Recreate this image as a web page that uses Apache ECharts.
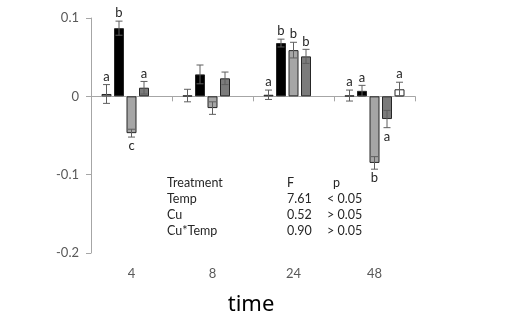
<!DOCTYPE html>
<html>
<head>
<meta charset="utf-8">
<script src="https://cdn.jsdelivr.net/npm/echarts@6/dist/echarts.min.js"></script>
<style>html,body{margin:0;padding:0;background:#fff;}#c{width:516px;height:317px;}</style>
</head>
<body>
<div id="c"></div>
<script>
// ---- data ----
var categories = ['4', '8', '24', '48'];
var s1Values = [0.003, 0.001, 0.002, 0.001];
var s2Values = [0.087, 0.028, 0.068, 0.007];
var s3Values = [-0.047, -0.015, 0.059, -0.085];
var s4Values = [0.011, 0.023, 0.051, -0.029];
var s5Values = [null, null, null, 0.009];
var s1Err = [0.012, 0.008, 0.006, 0.007];
var s2Err = [0.009, 0.012, 0.005, 0.007];
var s3Err = [0.005, 0.008, 0.010, 0.008];
var s4Err = [0.008, 0.008, 0.009, 0.011];
var s5Err = [null, null, null, 0.009];
var s1Letters = ['a', '', 'a', 'a'];
var s2Letters = ['b', '', 'b', 'a'];
var s3Letters = ['c', '', 'b', 'b'];
var s4Letters = ['a', '', 'b', 'a'];
var s5Letters = ['', '', '', 'a'];
var yTicks = [-0.2, -0.1, 0, 0.1];
var tableHeader = ['Treatment', 'F', 'p'];
var tableRows = [
  ['Temp', '7.61', '< 0.05'],
  ['Cu', '0.52', '> 0.05'],
  ['Cu*Temp', '0.90', '> 0.05']
];
var xTitle = 'time';

// ---- styles ----
var allValues = [s1Values, s2Values, s3Values, s4Values, s5Values];
var allErr = [s1Err, s2Err, s3Err, s4Err, s5Err];
var allLetters = [s1Letters, s2Letters, s3Letters, s4Letters, s5Letters];
var fills = ['#ffffff', '#000000', '#a6a6a6', '#7b7b7b', '#ffffff'];
var BAR_W = 10, BAR_GAP = 2.5;

var barSeries = allValues.map(function (vals, i) {
  return {
    type: 'bar',
    xAxisIndex: 0,
    barWidth: BAR_W,
    barGap: '25%',
    data: vals.map(function (v) { return v === null ? '-' : v; }),
    itemStyle: { color: fills[i], borderColor: '#262626', borderWidth: 1 },
    z: 2
  };
});

var errData = [];
allValues.forEach(function (vals, si) {
  vals.forEach(function (v, ci) {
    if (v === null) return;
    errData.push([ci, si, v, allErr[si][ci], allLetters[si][ci]]);
  });
});

var errSeries = {
  type: 'custom',
  xAxisIndex: 0,
  z: 5,
  clip: false,
  data: errData,
  encode: { x: 0, y: 2 },
  renderItem: function (params, api) {
    var ci = api.value(0), si = api.value(1), v = api.value(2), e = api.value(3);
    var letter = errData[params.dataIndex][4];
    var off = (si - 2) * (BAR_W + BAR_GAP);
    var pHi = api.coord([ci, v + e]);
    var pLo = api.coord([ci, v - e]);
    var x = pHi[0] + off;
    var cap = 3.5;
    var st = { stroke: '#5f5f5f', lineWidth: 1 };
    var children = [
      { type: 'line', shape: { x1: x, y1: pHi[1], x2: x, y2: pLo[1] }, style: st },
      { type: 'line', shape: { x1: x - cap, y1: pHi[1], x2: x + cap, y2: pHi[1] }, style: st },
      { type: 'line', shape: { x1: x - cap, y1: pLo[1], x2: x + cap, y2: pLo[1] }, style: st }
    ];
    if (letter) {
      var above = v >= 0;
      children.push({
        type: 'text',
        style: {
          text: letter, x: x, y: above ? pHi[1] - 8 : pLo[1] + 9,
          align: 'center', verticalAlign: 'middle',
          fontFamily: 'Lato', fontSize: 13, fill: '#262626'
        }
      });
    }
    return { type: 'group', children: children };
  }
};

var colX = [167, 287, 327];
var rowY = [183, 199, 215, 231];
var graphics = [];
[tableHeader].concat(tableRows).forEach(function (row, r) {
  row.forEach(function (txt, c) {
    var xx = colX[c];
    if (r === 0 && c === 2) xx = 333;
    graphics.push({
      type: 'text', left: xx, top: rowY[r] - 7,
      style: { text: txt, fontFamily: 'Lato', fontSize: 12.5, fill: '#262626' }
    });
  });
});
graphics.push({
  type: 'text', x: 251, y: 305,
  style: { text: xTitle, fontFamily: 'Noto Sans', fontSize: 22, fill: '#000', align: 'center', verticalAlign: 'middle' }
});

var chart = echarts.init(document.getElementById('c'), null, { renderer: 'canvas' });
chart.setOption({
  animation: false,
  backgroundColor: '#fff',
  grid: { left: 91, right: 101, top: 18, bottom: 64, containLabel: false },
  xAxis: [
    {
      type: 'category', data: categories, position: 'bottom',
      axisLine: { onZero: true, lineStyle: { color: '#a6a6a6', width: 1 } },
      axisTick: { show: true, length: 5, lineStyle: { color: '#a6a6a6' } },
      axisLabel: { show: false },
      splitLine: { show: false }
    },
    {
      type: 'category', data: categories, position: 'bottom',
      axisLine: { show: false, onZero: false },
      axisTick: { show: false },
      axisLabel: { show: true, color: '#595959', fontFamily: 'Lato', fontSize: 13, margin: 14 },
      splitLine: { show: false }
    }
  ],
  yAxis: {
    type: 'value', min: yTicks[0], max: yTicks[yTicks.length - 1], interval: 0.1,
    axisLine: { show: true, lineStyle: { color: '#a6a6a6' } },
    axisTick: { show: true, length: 5, lineStyle: { color: '#a6a6a6' } },
    axisLabel: {
      color: '#595959', fontFamily: 'Lato', fontSize: 13, margin: 12,
      formatter: function (v) { return Math.abs(v) < 1e-9 ? '0' : String(+v.toFixed(1)); }
    },
    splitLine: { show: false }
  },
  series: barSeries.concat([errSeries]),
  graphic: graphics
});
</script>
</body>
</html>
